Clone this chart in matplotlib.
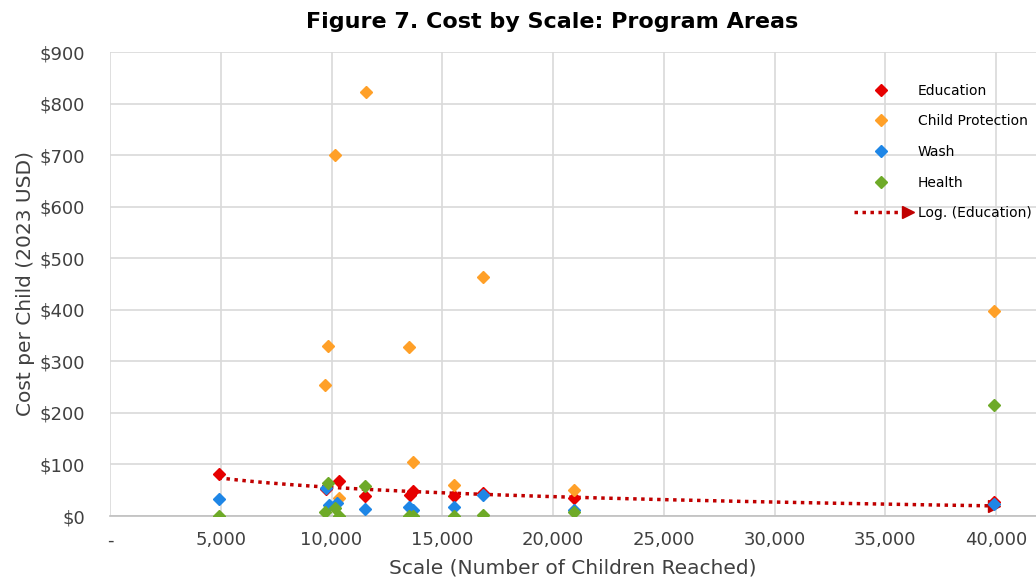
import matplotlib
matplotlib.use('Agg')
import matplotlib.pyplot as plt
from matplotlib.ticker import FuncFormatter, MultipleLocator
from matplotlib.legend_handler import HandlerLine2D
import numpy as np

# datos
educacion_x = [4900, 9750, 10350, 11500, 13550, 13680, 15550, 16850, 20950, 39900]
educacion_y = [81, 52, 68, 39, 41, 48, 39, 44, 35, 27]

proteccion_x = [9700, 9850, 10150, 10350, 11550, 13500, 13680, 15550, 16850, 20950, 39900]
proteccion_y = [254, 329, 700, 35, 823, 328, 105, 60, 463, 50, 397]

wash_x = [4900, 9750, 9880, 10250, 11500, 13500, 13680, 15550, 16850, 20950, 39900]
wash_y = [33, 54, 21, 25, 14, 18, 12, 17, 41, 12, 23]

salud_x = [4900, 9700, 9850, 10150, 10350, 11500, 13500, 13680, 15550, 16850, 20950, 39900]
salud_y = [0, 8, 64, 16, 0, 58, 0, 0, 0, 2, 8, 215]

series = [
    ('Education', educacion_x, educacion_y, '#e60000'),
    ('Child Protection', proteccion_x, proteccion_y, '#ffa028'),
    ('Wash', wash_x, wash_y, '#1e86e6'),
    ('Health', salud_x, salud_y, '#6eaa28'),
]


class HandlerFlecha(HandlerLine2D):
    """Linea de leyenda con la punta de flecha solo al final."""
    def create_artists(self, *args, **kwargs):
        arts = super().create_artists(*args, **kwargs)
        for a in arts:
            a.set_markevery([-1])
        return arts


fig = plt.figure(figsize=(10.36, 5.8), dpi=100)
ax = fig.add_axes([110 / 1036, 64 / 580, 926 / 1036, 464 / 580])

for nombre, xs, ys, color in series:
    ax.plot(xs, ys, linestyle='none', marker='D', markersize=6.5,
            color=color, label=nombre, zorder=4)

# linea de tendencia logaritmica (educacion)
a, b = np.polyfit(np.log(educacion_x), educacion_y, 1)
xt = np.linspace(min(educacion_x), max(educacion_x), 200)
tendencia, = ax.plot(xt, a * np.log(xt) + b, linestyle=(0, (1, 1.3)), linewidth=2.5,
                     color='#c00000', marker='>', markevery=[-1], markersize=9,
                     label='Log. (Education)', zorder=3)

ax.set_xlim(0, 41800)
ax.set_ylim(0, 900)
ax.xaxis.set_major_locator(MultipleLocator(5000))
ax.yaxis.set_major_locator(MultipleLocator(100))
ax.xaxis.set_major_formatter(FuncFormatter(lambda v, p: '-' if v == 0 else f'{v:,.0f}'))
ax.yaxis.set_major_formatter(FuncFormatter(lambda v, p: f'${v:,.0f}'))
ax.tick_params(length=0, labelsize=13, colors='#404040')
ax.tick_params(axis='y', pad=18)
ax.tick_params(axis='x', pad=11)
ax.grid(True, color='#d9d9d9', linewidth=1.2)
ax.set_axisbelow(True)
for lado in ['top', 'right', 'left']:
    ax.spines[lado].set_visible(False)
ax.spines['bottom'].set_color('#bfbfbf')
ax.spines['bottom'].set_linewidth(1.2)

ax.set_xlabel('Scale (Number of Children Reached)', fontsize=14.5, color='#404040', labelpad=7)
ax.set_ylabel('Cost per Child (2023 USD)', fontsize=14.5, color='#404040', labelpad=3)

fig.text(552 / 1036, 1 - 22 / 580, 'Figure 7. Cost by Scale: Program Areas',
         ha='center', va='center', fontsize=16, fontweight='bold')

ax.legend(loc='upper left', bbox_to_anchor=(0.7915, 0.947), frameon=False,
          fontsize=10, handlelength=4.5, handletextpad=0.4, labelspacing=1.2,
          borderpad=0, numpoints=1,
          handler_map={tendencia: HandlerFlecha(numpoints=2)})

fig.savefig('out.png', dpi=100)
